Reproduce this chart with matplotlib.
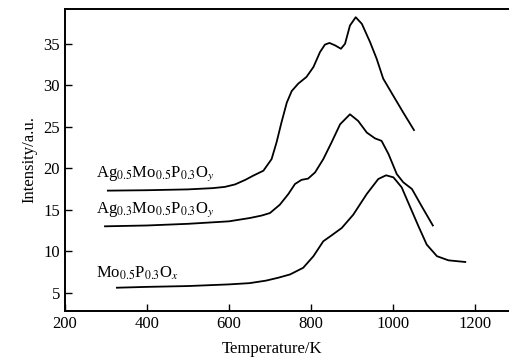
import matplotlib
matplotlib.use('Agg')
import matplotlib.pyplot as plt

plt.rcParams['font.family'] = ['Liberation Serif', 'DejaVu Serif']
plt.rcParams['mathtext.fontset'] = 'stix'

# Ag0.5Mo0.5P0.3Oy
temp_ag05 = [305, 400, 500, 560, 590, 615, 640, 659, 684, 704, 716, 728, 741, 753, 769, 789, 806, 822, 834,
             845, 859, 873, 883, 895, 909, 924, 944, 960, 976, 1001, 1025, 1051]
int_ag05 = [17.3, 17.35, 17.45, 17.6, 17.75, 18.05, 18.6, 19.1, 19.7, 21.1, 23.1, 25.5, 27.9, 29.3, 30.2, 31.0, 32.2, 34.0, 34.9,
            35.1, 34.8, 34.4, 35.0, 37.2, 38.2, 37.4, 35.2, 33.2, 30.8, 28.7, 26.7, 24.6]

# Ag0.3Mo0.5P0.3Oy
temp_ag03 = [298, 400, 500, 600, 651, 680, 700, 724, 745, 761, 777, 793, 810, 830, 850, 871, 895, 915, 936, 956,
             972, 989, 1009, 1025, 1046, 1070, 1097]
int_ag03 = [13.0, 13.1, 13.3, 13.6, 14.0, 14.3, 14.6, 15.6, 16.9, 18.1, 18.6, 18.75, 19.5, 21.1, 23.1, 25.3, 26.5, 25.7, 24.3, 23.6,
            23.3, 21.7, 19.3, 18.3, 17.5, 15.4, 13.1]

# Mo0.5P0.3Ox
temp_mo = [327, 400, 500, 600, 650, 690, 720, 749, 781, 806, 830, 850, 875, 903, 936, 964, 983, 1001, 1021, 1041,
           1062, 1082, 1107, 1135, 1176]
int_mo = [5.6, 5.7, 5.8, 6.0, 6.15, 6.45, 6.8, 7.2, 8.0, 9.4, 11.2, 11.9, 12.8, 14.4, 16.9, 18.7, 19.15, 18.9, 17.7, 15.4,
          13.0, 10.8, 9.4, 8.9, 8.7]

labels = [r'Ag$_{0.5}$Mo$_{0.5}$P$_{0.3}$O$_{y}$',
          r'Ag$_{0.3}$Mo$_{0.5}$P$_{0.3}$O$_{y}$',
          r'Mo$_{0.5}$P$_{0.3}$O$_{x}$']
label_pos = [(276, 19.3), (276, 15.0), (276, 7.3)]

fig = plt.figure(figsize=(5.1, 3.57), dpi=100)
ax = fig.add_axes([0.127, 0.129, 0.873, 0.846])

for t, i in [(temp_ag05, int_ag05), (temp_ag03, int_ag03), (temp_mo, int_mo)]:
    ax.plot(t, i, color='black', lw=1.3, solid_joinstyle='round')

for lab, (x, y) in zip(labels, label_pos):
    ax.text(x, y, lab, fontsize=12, ha='left', va='center')

ax.set_xlim(200, 1285)
ax.set_ylim(2.8, 39.2)
ax.set_xticks([200, 400, 600, 800, 1000, 1200])
ax.set_yticks([5, 10, 15, 20, 25, 30, 35])
ax.tick_params(direction='in', length=5, width=1, labelsize=12, top=False, right=False)
ax.spines['right'].set_visible(False)
for s in ['left', 'bottom', 'top']:
    ax.spines[s].set_linewidth(1.4)

ax.set_xlabel('Temperature/K', fontsize=12, labelpad=2)
ax.xaxis.set_label_coords(0.465, -0.1)
ax.set_ylabel('Intensity/a.u.', fontsize=12)

fig.savefig('out.png', dpi=100)
